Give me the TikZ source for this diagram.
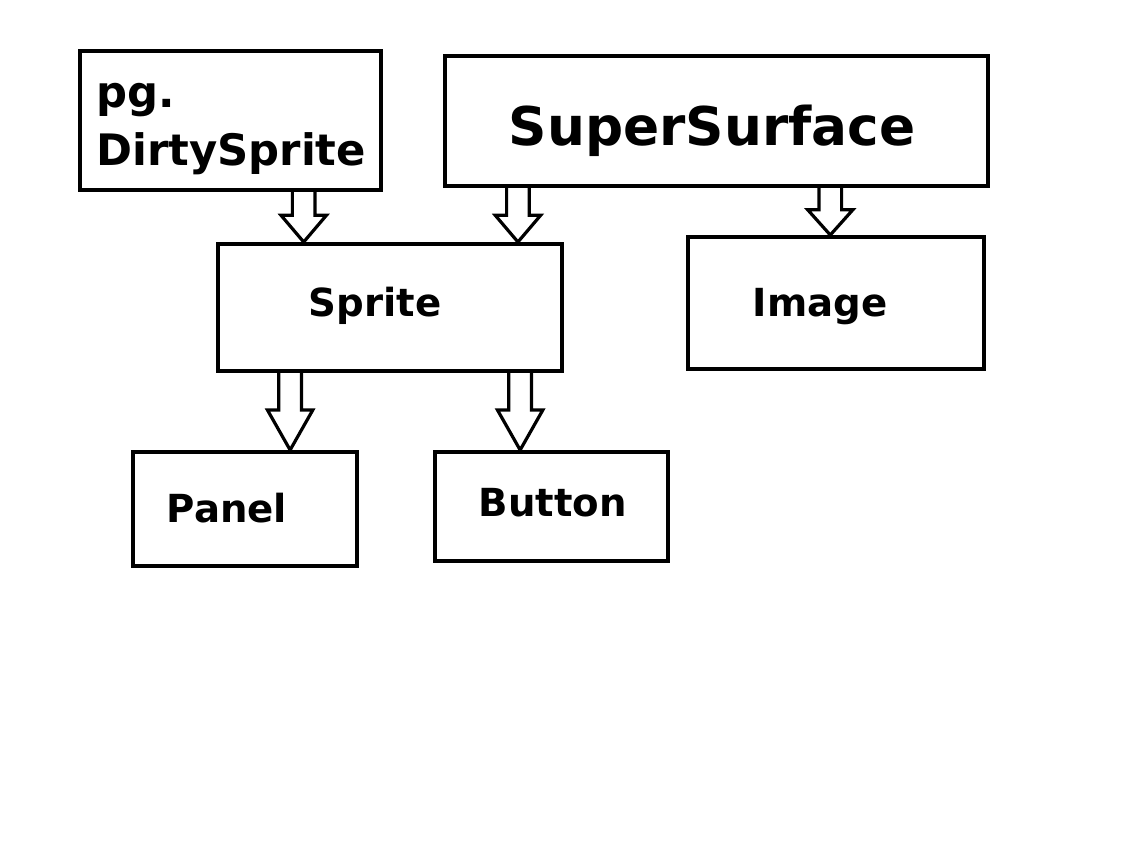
\documentclass[tikz,border=0pt]{standalone}
\usepackage{fontspec}
\setmainfont{DejaVu Sans}
\usetikzlibrary{calc,fit}

% hollow block arrow from a coordinate down to the top of a node
\newcommand{\hollowarrow}[3]{%
  \draw[arrowline] let \p1=(#1), \p2=(#1 |- #2.north) in
    (\x1-8.5pt,\y1) -- (\x1-8.5pt,\y2+#3) -- (\x1-17pt,\y2+#3) -- (\x2,\y2)
    -- (\x1+17pt,\y2+#3) -- (\x1+8.5pt,\y2+#3) -- (\x1+8.5pt,\y1);}

\begin{document}
\begin{tikzpicture}[x=0.75pt,y=-0.75pt,
  box/.style={draw, line width=3pt, inner sep=0pt},
  lbl/.style={anchor=base, inner sep=0pt, font=\bfseries\fontsize{29pt}{35pt}\selectfont},
  arrowline/.style={line width=2.4pt, line join=miter}]
\path[use as bounding box, fill=white] (0,0) rectangle (1144,856);

% boxes
\node[box, fit={(80,51) (381,190)}] (dirty) {};
\node[box, fit={(445,56) (988,186)}] (super) {};
\node[box, fit={(218,244) (562,371)}] (sprite) {};
\node[box, fit={(688,237) (984,369)}] (image) {};
\node[box, fit={(133,452) (357,566)}] (panel) {};
\node[box, fit={(435,452) (668,561)}] (button) {};

% labels
\node[lbl, anchor=base west, align=left, font=\bfseries\fontsize{32.5pt}{43.5pt}\selectfont]
  (dirtytxt) at (96,165) {pg.\\DirtySprite};
\node[lbl, font=\bfseries\fontsize{40pt}{48pt}\selectfont] (supertxt) at (712,145) {SuperSurface};
\node[lbl] (spritetxt) at (375,316) {Sprite};
\node[lbl] (imagetxt) at (820,316) {Image};
\node[lbl] (paneltxt) at (227,522) {Panel};
\node[lbl] (buttontxt) at (553,516) {Button};

% inheritance arrows
\coordinate (a1) at ($(dirty.south west)!0.74!(dirty.south east)$);
\coordinate (a2) at ($(super.south west)!0.137!(super.south east)$);
\coordinate (a3) at ($(super.south west)!0.708!(super.south east)$);
\coordinate (a4) at ($(sprite.south west)!0.213!(sprite.south east)$);
\coordinate (a5) at ($(sprite.south west)!0.874!(sprite.south east)$);
\hollowarrow{a1}{sprite}{20pt}
\hollowarrow{a2}{sprite}{20pt}
\hollowarrow{a3}{image}{19pt}
\hollowarrow{a4}{panel}{30pt}
\hollowarrow{a5}{button}{30pt}
\end{tikzpicture}
\end{document}
